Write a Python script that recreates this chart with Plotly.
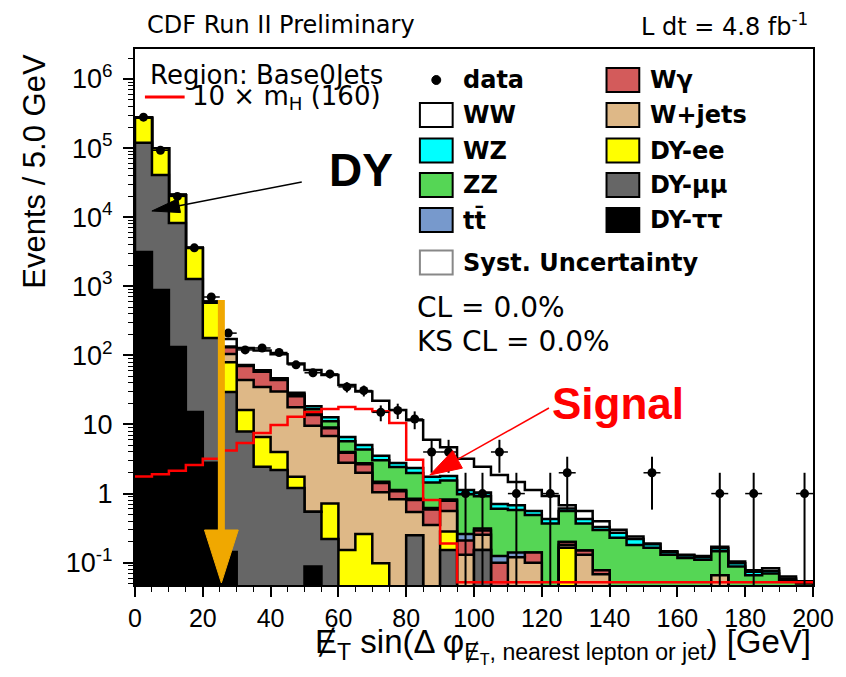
import numpy as np
import plotly.graph_objects as go

# ---------------- binning ----------------
bin_width = 5.0
n_bins = 40
edges = np.arange(n_bins + 1) * bin_width          # 0 ... 200 GeV
centers = edges[:-1] + bin_width / 2

# ---------------- observed data (events / 5 GeV) ----------------
data_counts = [280000, 93000, 20000, 3600, 700, 210, 120, 128, 110, 73,
               56, 54, 35, 31, 15, 16, 12, 4, 4, 1,
               1, 4, 1, 0, 1, 2, 0, 0, 0, 0,
               2, 0, 0, 0, 1, 0, 1, 0, 0, 1]

# ---------------- background expectations (stack, bottom to top) ----------------
dy_tautau = [3130, 884, 132, 15.2, 2.8, 0.143, 0, 0, 0, 0,
             0.088, 0, 0, 0, 0, 0, 0, 0, 0, 0,
             0, 0, 0, 0, 0, 0, 0, 0, 0, 0,
             0, 0, 0, 0, 0, 0, 0, 0, 0, 0]

dy_mumu = [116000, 39800, 8100, 1260, 176, 29.4, 7.9, 2.45, 2.2, 1.2,
           0.46, 0.22, 0, 0, 0, 0, 0.25, 0, 0.153, 0,
           0.153, 0, 0, 0, 0, 0, 0, 0, 0, 0,
           0, 0, 0, 0, 0, 0, 0, 0, 0, 0]

dy_ee = [156000, 59000, 12700, 2300, 400, 50, 8.3, 4.15, 1.8, 0.55,
         0, 0.5, 0.153, 0.26, 0.098, 0, 0, 0, 0.13, 0,
         0, 0, 0, 0, 0, 0.165, 0, 0, 0, 0,
         0, 0, 0, 0, 0, 0, 0, 0, 0, 0]

w_jets = [0, 0, 0, 0, 8, 25, 27.8, 28.4, 26, 16,
          9.0, 6.1, 2.65, 1.74, 0.95, 0.83, 0.29, 0.35, 0.275, 0.13,
          0.10, 0, 0.12, 0.10, 0, 0.015, 0.13, 0.068, 0, 0,
          0, 0, 0, 0, 0.066, 0, 0, 0, 0, 0]

w_gamma = [0, 0, 0, 0, 5, 27, 26.3, 23, 14, 7.9,
           4.2, 2.0, 1.1, 0.65, 0.38, 0.25, 0.27, 0.24, 0.23, 0.08,
           0.04, 0.10, 0, 0.04, 0, 0.02, 0.02, 0.01, 0, 0,
           0, 0, 0, 0, 0, 0, 0, 0, 0, 0]

ttbar = [0, 0, 0, 0, 0.1, 0.2, 0.3, 0.3, 0.3, 0.2,
         0.3, 0.2, 0.1, 0.1, 0.05, 0.05, 0.03, 0.03, 0.03, 0.05,
         0.02, 0.025, 0.02, 0, 0, 0, 0, 0, 0, 0,
         0, 0, 0, 0, 0, 0, 0, 0, 0, 0]

zz = [0, 0, 0, 0, 0.5, 1.0, 1.0, 1.5, 1.5, 1.5,
      2.5, 2.1, 1.7, 1.6, 1.55, 1.3, 1.15, 0.83, 0.73, 0.72,
      0.6, 0.48, 0.44, 0.35, 0.37, 0.36, 0.22, 0.22, 0.23, 0.18,
      0.165, 0.13, 0.117, 0.11, 0.08, 0.088, 0.066, 0.07, 0.056, 0.05]

wz = [0, 0, 0, 0, 0.5, 0.8, 0.8, 1.0, 1.0, 1.5,
      1.8, 1.6, 0.9, 0.7, 0.5, 0.35, 0.35, 0.30, 0.25, 0.15,
      0.12, 0.10, 0.10, 0.07, 0.06, 0.05, 0.06, 0.03, 0.04, 0.04,
      0.02, 0.012, 0.01, 0.01, 0.016, 0.01, 0.008, 0.006, 0.003, 0.002]

ww = [0, 0, 0, 0, 10, 39.5, 55.6, 57, 57, 47.6,
      43, 39.3, 30.7, 25, 18.5, 13.4, 9.2, 4.25, 2.9, 2.07,
      1.42, 1.15, 0.79, 0.57, 0.49, 0.07, 0.13, 0.07, 0.03, 0.02,
      0.005, 0.004, 0.003, 0.005, 0.008, 0.006, 0.004, 0.007, 0.004, 0.002]

# ---------------- Higgs signal, m_H = 160 GeV, scaled x10 ----------------
signal_x10 = [1.76, 1.9, 2.14, 2.6, 3.2, 4.2, 5.4, 7.5, 9.8, 12.9,
              15.2, 16.8, 17.9, 16.8, 15.5, 10.5, 3.1, 0.81, 0.19, 0,
              0, 0, 0, 0, 0, 0, 0, 0, 0, 0,
              0, 0, 0, 0, 0, 0, 0, 0, 0, 0]

# stack definition: (label, values, fill colour), bottom to top
stack = [
    ("DY-ττ", dy_tautau, "#000000"),
    ("DY-μμ", dy_mumu, "#666666"),
    ("DY-ee", dy_ee, "#FFFF00"),
    ("W+jets", w_jets, "#DEB887"),
    ("Wγ", w_gamma, "#D35B5B"),
    ("tt̄", ttbar, "#7799CC"),
    ("ZZ", zz, "#55D655"),
    ("WZ", wz, "#00FFFF"),
    ("WW", ww, "#FFFFFF"),
]

# ---------------- axis ranges and frame geometry (pixels) ----------------
W, H = 846, 677
L, R, T, B = 135, 818, 49, 585
y_log_range = [-1.323, 6.434]
FLOOR = 1e-4


def fx(xp):
    return (xp - L) / (R - L)


def fy(yp):
    return (B - yp) / (B - T)


def step_polygon(vals):
    xs, ys = [edges[0]], [FLOOR]
    for i, v in enumerate(vals):
        v = v if v > 0 else FLOOR
        xs += [edges[i], edges[i + 1]]
        ys += [v, v]
    xs.append(edges[-1])
    ys.append(FLOOR)
    return xs, ys


fig = go.Figure()

# cumulative stack, drawn from the largest sum downwards
cum = np.cumsum(np.array([s[1] for s in stack], dtype=float), axis=0)
for k in range(len(stack) - 1, -1, -1):
    xs, ys = step_polygon(cum[k])
    fig.add_trace(go.Scatter(
        x=xs, y=ys, mode="lines", fill="toself",
        fillcolor=stack[k][2],
        line=dict(color="black", width=2.5),
        hoverinfo="skip", showlegend=False))

# signal histogram (empty bins sit on the bottom of the frame)
sig = np.array(signal_x10, dtype=float)
sig_draw = np.where(sig > 0, sig, 0.052)
fig.add_trace(go.Scatter(
    x=list(edges), y=list(sig_draw) + [sig_draw[-1]],
    mode="lines", line=dict(color="#FF0000", width=2.5, shape="hv"),
    hoverinfo="skip", showlegend=False))

# data points with sqrt(N) errors
n = np.array(data_counts, dtype=float)
has = n > 0
err = np.sqrt(n[has])
err_lo = np.minimum(err, n[has] - 1e-3)
fig.add_trace(go.Scatter(
    x=centers[has], y=n[has], mode="markers",
    marker=dict(color="black", size=9, symbol="circle"),
    error_y=dict(type="data", symmetric=False, array=err, arrayminus=err_lo,
                 color="black", thickness=2, width=0),
    error_x=dict(type="constant", value=bin_width / 2, color="black",
                 thickness=1.5, width=0),
    hoverinfo="skip", showlegend=False))

# ---------------- axes ----------------
major_y = [0.1, 1, 10, 100, 1e3, 1e4, 1e5, 1e6]
major_y_text = ["10<sup>-1</sup>", "1", "10", "10<sup>2</sup>", "10<sup>3</sup>",
                "10<sup>4</sup>", "10<sup>5</sup>", "10<sup>6</sup>"]
minor_y = [m * 10.0 ** e for e in range(-2, 7) for m in range(2, 10)]

AX_FONT = "Liberation Sans"
TXT_FONT = "DejaVu Sans"

fig.update_xaxes(
    range=[0, 200], tick0=0, dtick=20, ticks="outside", ticklen=10,
    tickwidth=1.5, tickcolor="black",
    minor=dict(dtick=5, tick0=0, ticks="outside", ticklen=5,
               tickwidth=1.2, tickcolor="black", showgrid=False),
    showline=True, mirror=True, linewidth=2, linecolor="black",
    showgrid=False, zeroline=False,
    tickfont=dict(family=AX_FONT, size=25, color="black"))

fig.update_yaxes(
    type="log", range=y_log_range, tickmode="array",
    tickvals=major_y, ticktext=major_y_text,
    ticks="outside", ticklen=10, tickwidth=1.5, tickcolor="black",
    ticklabelstandoff=5,
    minor=dict(tickvals=minor_y, ticks="outside", ticklen=5,
               tickwidth=1.2, tickcolor="black", showgrid=False),
    showline=True, mirror=True, linewidth=2, linecolor="black",
    showgrid=False, zeroline=False,
    tickfont=dict(family=AX_FONT, size=27, color="black"))

# ---------------- text ----------------
ann = []


def text(xp, yp, s, size, family=TXT_FONT, color="black",
         xanchor="left", yanchor="middle", angle=0):
    ann.append(dict(x=fx(xp), y=fy(yp), xref="paper", yref="paper",
                    text=s, showarrow=False, xanchor=xanchor, yanchor=yanchor,
                    textangle=angle,
                    font=dict(family=family, size=size, color=color)))


text(145, 25, "CDF Run II Preliminary", 24)
text(815, 25, "L dt = 4.8 fb<sup>-1</sup>", 24, xanchor="right")
text(33, 171, "Events / 5.0 GeV", 31, family=AX_FONT, xanchor="center", angle=-90)
text(818, 645,
     "Ɇ<sub>T</sub> sin(Δ φ<sub>Ɇ<sub>T</sub>, nearest lepton or jet</sub>) [GeV]",
     33, family="Liberation Sans, DejaVu Sans", xanchor="right")

text(148, 75, "Region: Base0Jets", 26)
text(190, 97, "10 × m<sub>H</sub> (160)", 26)
text(417, 307, "CL = 0.0%", 28)
text(417, 342, "KS CL = 0.0%", 28)

text(328, 170, "<b>DY</b>", 46, family=AX_FONT)
text(553, 403, "<b>Signal</b>", 44, family=AX_FONT, color="#FF0000")

# legend (two columns of boxes)
shapes = []
row_y = [80, 115, 150.5, 185, 220]
left_entries = [("WW", "#FFFFFF"), ("WZ", "#00FFFF"), ("ZZ", "#55D655"), ("tt\u0304", "#7799CC")]
right_entries = [("Wγ", "#D35B5B"), ("W+jets", "#DEB887"), ("DY-ee", "#FFFF00"),
                 ("DY-μμ", "#666666"), ("DY-ττ", "#000000")]


def box(x0, yc, color, border="black"):
    shapes.append(dict(type="rect", xref="paper", yref="paper",
                       x0=fx(x0), x1=fx(x0 + 33), y0=fy(yc + 12), y1=fy(yc - 12),
                       fillcolor=color, line=dict(color=border, width=2),
                       layer="above"))


for (lab, col), yc in zip(left_entries, row_y[1:]):
    box(422, yc, col)
    text(463, yc, "<b>" + lab + "</b>", 24)
for (lab, col), yc in zip(right_entries, row_y):
    box(610, yc, col)
    text(652, yc, "<b>" + lab + "</b>", 24)

# data marker in legend
shapes.append(dict(type="circle", xref="paper", yref="paper",
                   x0=fx(434), x1=fx(443), y0=fy(84.5), y1=fy(75.5),
                   fillcolor="black", line=dict(color="black", width=1)))
text(463, 80, "<b>data</b>", 24)

# systematic band entry
box(422, 262.5, "#FFFFFF", border="#888888")
text(463, 262.5, "<b>Syst. Uncertainty</b>", 24)

# signal line sample
shapes.append(dict(type="line", xref="paper", yref="paper",
                   x0=fx(145), x1=fx(185), y0=fy(97), y1=fy(97),
                   line=dict(color="#FF0000", width=3)))


def arrow(tail, tip, color, width, head_len, head_half):
    tx, ty = tail
    px, py = tip
    d = np.hypot(px - tx, py - ty)
    ux, uy = (px - tx) / d, (py - ty) / d
    bx, by = px - ux * head_len, py - uy * head_len
    nx, ny = -uy, ux
    shapes.append(dict(type="line", xref="paper", yref="paper",
                       x0=fx(tx), y0=fy(ty), x1=fx(bx), y1=fy(by),
                       line=dict(color=color, width=width)))
    c1 = (bx + nx * head_half, by + ny * head_half)
    c2 = (bx - nx * head_half, by - ny * head_half)
    path = "M {} {} L {} {} L {} {} Z".format(
        fx(px), fy(py), fx(c1[0]), fy(c1[1]), fx(c2[0]), fy(c2[1]))
    shapes.append(dict(type="path", xref="paper", yref="paper", path=path,
                       fillcolor=color, line=dict(color=color, width=1)))


arrow((303, 182), (152, 211), "black", 1.5, 28, 7)
arrow((552, 408), (432, 475), "#FF0000", 1.5, 32, 10)
arrow((222, 300), (222, 583), "#F0A800", 7, 53, 17)

fig.update_layout(
    width=W, height=H,
    margin=dict(l=L, r=W - R, t=T, b=H - B, pad=0),
    paper_bgcolor="white", plot_bgcolor="white",
    showlegend=False,
    annotations=ann, shapes=shapes)

fig.write_html("out.html")
